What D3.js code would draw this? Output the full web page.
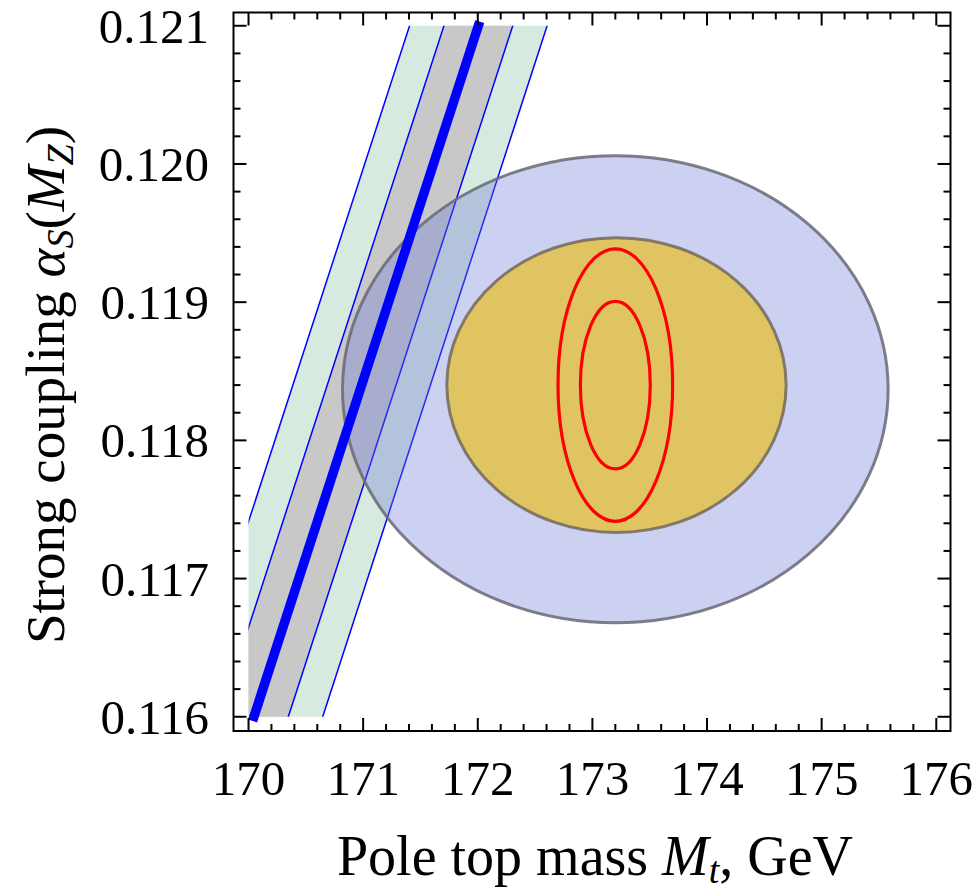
<!DOCTYPE html>
<html><head><meta charset="utf-8">
<script src="https://cdn.jsdelivr.net/npm/d3@7"></script>
<style>
html,body{margin:0;padding:0;background:#fff;}
svg{display:block;}
text{font-family:"Liberation Serif","Times New Roman",serif;fill:#000;}
</style></head>
<body>
<svg id="chart" width="980" height="895"></svg>
<script>
// ---- data ----
const xTicks = [170, 171, 172, 173, 174, 175, 176];
const yTicks = [0.116, 0.117, 0.118, 0.119, 0.120, 0.121];
const yTickLabels = ["0.116", "0.117", "0.118", "0.119", "0.120", "0.121"];
const xDomain = [169.869, 176.124];
const yDomain = [0.115897, 0.121096];
// stability line: Mt at alpha_s = 0.116 and 0.121
const lineAlpha = [0.116, 0.121];
const lineMt = [170.047, 172.005];
const thickAlpha = [0.11597, 0.12103];
const bandHalfWidths = [0.6, 0.3]; // GeV: outer (green), inner (gray)
const bandColors = ["#d7eadf", "#c8c8c8"];
// ellipses: [Mt centre, alpha centre, Mt semi-axis, alpha semi-axis]
const ellipseOuter = [173.2, 0.11837, 2.38, 0.00169];
const ellipseInner = [173.21, 0.1184, 1.48, 0.001067];
const redOuter = [173.2, 0.1184, 0.5, 0.000986];
const redInner = [173.2, 0.1184, 0.305, 0.000606];

// ---- layout ----
const svg = d3.select("#chart");
const L = 233.5, R = 950.5, T = 12.5, B = 731;
const x = d3.scaleLinear().domain(xDomain).range([L, R]);
const y = d3.scaleLinear().domain(yDomain).range([B, T]);
const mtOf = d3.scaleLinear().domain(lineAlpha).range(lineMt);

svg.append("defs").append("clipPath").attr("id", "bandclip")
  .append("rect")
  .attr("x", x(170)).attr("y", y(0.121))
  .attr("width", x(176) - x(170)).attr("height", y(0.116) - y(0.121));

const bandG = svg.append("g").attr("clip-path", "url(#bandclip)");
const aEnds = [0.1159, 0.1211];
bandHalfWidths.forEach((w, i) => {
  const pts = [
    [x(mtOf(aEnds[0]) - w), y(aEnds[0])],
    [x(mtOf(aEnds[1]) - w), y(aEnds[1])],
    [x(mtOf(aEnds[1]) + w), y(aEnds[1])],
    [x(mtOf(aEnds[0]) + w), y(aEnds[0])]
  ];
  bandG.append("path").attr("d", d3.line()(pts) + "Z")
    .attr("fill", bandColors[i]).attr("stroke", "none");
});

// ellipses
function ell(g, e, fill, stroke, sw, fo) {
  g.append("ellipse")
    .attr("cx", x(e[0])).attr("cy", y(e[1]))
    .attr("rx", x(e[0] + e[2]) - x(e[0]))
    .attr("ry", y(e[1]) - y(e[1] + e[3]))
    .attr("fill", fill).attr("fill-opacity", fo)
    .attr("stroke", stroke).attr("stroke-width", sw);
}
const eG = svg.append("g");
ell(eG, ellipseOuter, "#6f7ad8", "rgba(105,105,120,0.85)", 3, 0.35);
ell(eG, ellipseInner, "#e1c462", "rgba(115,105,90,0.85)", 3, 1);
ell(eG, redOuter, "none", "#ff0000", 3.2, 1);
ell(eG, redInner, "none", "#ff0000", 3.2, 1);

// thin blue edge lines
bandHalfWidths.forEach(w => {
  [-w, w].forEach(s => {
    bandG.append("line")
      .attr("x1", x(mtOf(aEnds[0]) + s)).attr("y1", y(aEnds[0]))
      .attr("x2", x(mtOf(aEnds[1]) + s)).attr("y2", y(aEnds[1]))
      .attr("stroke", "#0000ff").attr("stroke-width", 1.5);
  });
});
// thick central line
svg.append("line")
  .attr("x1", x(mtOf(thickAlpha[0]))).attr("y1", y(thickAlpha[0]))
  .attr("x2", x(mtOf(thickAlpha[1]))).attr("y2", y(thickAlpha[1]))
  .attr("stroke", "#0000ff").attr("stroke-width", 9.5);

// frame
svg.append("rect").attr("x", L).attr("y", T).attr("width", R - L).attr("height", B - T)
  .attr("fill", "none").attr("stroke", "#000").attr("stroke-width", 2);

// ticks (inward, all sides)
const xMinor = d3.range(0, 31).map(i => 170 + i * 0.2);
const yMinor = d3.range(0, 26).map(i => 0.116 + i * 0.0002);
const tg = svg.append("g").attr("stroke", "#000").attr("stroke-width", 2);
xMinor.forEach((v, i) => {
  const len = (i % 5 === 0) ? 13 : 7;
  tg.append("line").attr("x1", x(v)).attr("x2", x(v)).attr("y1", B).attr("y2", B - len);
  tg.append("line").attr("x1", x(v)).attr("x2", x(v)).attr("y1", T).attr("y2", T + len);
});
yMinor.forEach((v, i) => {
  const len = (i % 5 === 0) ? 13 : 7;
  tg.append("line").attr("y1", y(v)).attr("y2", y(v)).attr("x1", L).attr("x2", L + len);
  tg.append("line").attr("y1", y(v)).attr("y2", y(v)).attr("x1", R).attr("x2", R - len);
});

// tick labels
svg.append("g").selectAll("text").data(xTicks).join("text")
  .attr("x", d => x(d)).attr("y", 795)
  .attr("text-anchor", "middle").attr("font-size", 49)
  .text(d => d);
svg.append("g").selectAll("text").data(yTicks).join("text")
  .attr("x", 209).attr("y", d => y(d) + 17)
  .attr("text-anchor", "end").attr("font-size", 49)
  .text((d, i) => yTickLabels[i]);

// axis titles
const xt = svg.append("text").attr("x", 595).attr("y", 875)
  .attr("text-anchor", "middle").attr("font-size", 56);
xt.append("tspan").text("Pole top mass ");
xt.append("tspan").attr("font-style", "italic").text("M");
xt.append("tspan").attr("font-style", "italic").attr("font-size", 38).attr("dy", 8).text("t");
xt.append("tspan").attr("dy", -8).text(", GeV");

const yt = svg.append("text")
  .attr("transform", "translate(64,385) rotate(-90)")
  .attr("text-anchor", "middle").attr("font-size", 55);
yt.append("tspan").text("Strong coupling ");
yt.append("tspan").attr("font-style", "italic").text("α");
yt.append("tspan").attr("font-style", "italic").attr("font-size", 38).attr("dy", 9).text("S");
yt.append("tspan").attr("dy", -9).text("(");
yt.append("tspan").attr("font-style", "italic").text("M");
yt.append("tspan").attr("font-style", "italic").attr("font-size", 38).attr("dy", 9).text("Z");
yt.append("tspan").attr("dy", -9).text(")");
</script>
</body></html>
